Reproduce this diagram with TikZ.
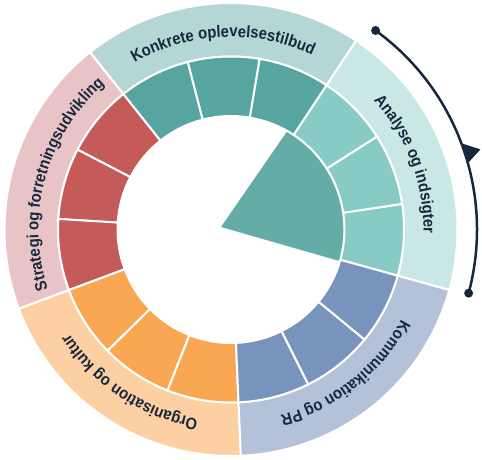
\documentclass[tikz,border=0pt]{standalone}
\usepackage{fontspec}
\setmainfont{Liberation Sans}
\newfontfamily\ringfam{Liberation Sans}[FakeStretch=0.9]
\usetikzlibrary{decorations.text}
\definecolor{anaLite}{HTML}{C9E8E5}
\definecolor{anaDeep}{HTML}{88CBC4}
\definecolor{konLite}{HTML}{B4D6D4}
\definecolor{konDeep}{HTML}{57A5A0}
\definecolor{strLite}{HTML}{E8C4C6}
\definecolor{strDeep}{HTML}{C45B59}
\definecolor{orgLite}{HTML}{FCD0A2}
\definecolor{orgDeep}{HTML}{F9A752}
\definecolor{komLite}{HTML}{B3C1D9}
\definecolor{komDeep}{HTML}{7893BC}
\definecolor{wedgeCol}{HTML}{63ACA8}
\definecolor{navy}{HTML}{17283D}
\newcommand{\ringfont}{\ringfam\fontsize{16.5}{19}\selectfont\bfseries}

\begin{document}
\begin{tikzpicture}[
    piece/.style={draw=white, line width=2pt},
    ringtext/.style={decorate, decoration={text along path, text align=center,
        text color=navy, text={|\ringfont|#1}}},
    cycleline/.style={draw=navy, line width=2.5pt}
  ]
    \useasboundingbox (-231pt,-229.5pt) rectangle (251pt,229.5pt);
    % ringe: fem omraader med tre felter hver
    \foreach \a/\lite/\deep in {-15.5/anaLite/anaDeep, 56.5/konLite/konDeep,
        128.5/strLite/strDeep, 200.5/orgLite/orgDeep, 272.5/komLite/komDeep} {
      \fill[piece, fill=\lite] (\a:173pt) arc[start angle=\a, end angle=\a+72, radius=173pt]
        -- ({\a+72}:226.5pt) arc[start angle=\a+72, end angle=\a, radius=226.5pt] -- cycle;
      \foreach \i [evaluate=\i as \b using \a+24*\i] in {0,1,2}
        \fill[piece, fill=\deep] (\b:113.5pt) arc[start angle=\b, end angle=\b+24, radius=113.5pt]
          -- ({\b+24}:173pt) arc[start angle=\b+24, end angle=\b, radius=173pt] -- cycle;
    }
    % lagkagestykke i midten
    \coordinate (apex) at (-10pt,2.5pt);
    \fill[wedgeCol] (apex) -- (-16.2:112.3pt) arc[start angle=-16.2, end angle=60.3, radius=112.3pt] -- cycle;
    % tekster langs ringen
    \path[ringtext=Analyse og indsigter] (56.5:192.5pt) arc[start angle=56.5, end angle=-15.5, radius=192.5pt];
    \path[ringtext=Konkrete oplevelsestilbud] (128.5:192.5pt) arc[start angle=128.5, end angle=56.5, radius=192.5pt];
    \path[ringtext=Strategi og forretningsudvikling] (200.5:192.5pt) arc[start angle=200.5, end angle=128.5, radius=192.5pt];
    \path[ringtext=Organisation og kultur] (272.5:192.5pt) arc[start angle=272.5, end angle=200.5, radius=192.5pt];
    \path[ringtext=Kommunikation og PR] (344.5:192.5pt) arc[start angle=344.5, end angle=272.5, radius=192.5pt];
    % pil udenfor
    \coordinate (cycstart) at (54:246pt);
    \coordinate (cycend) at (-15:246pt);
    \draw[cycleline] (cycstart) arc[start angle=54, end angle=-15, radius=246pt];
    \fill[navy] (cycstart) circle (4.5pt);
    \fill[navy] (cycend) circle (4.5pt);
    \fill[navy] (20.6:245.5pt) -- (17.8:262pt) -- (15.8:247pt) -- cycle;
\end{tikzpicture}
\end{document}
